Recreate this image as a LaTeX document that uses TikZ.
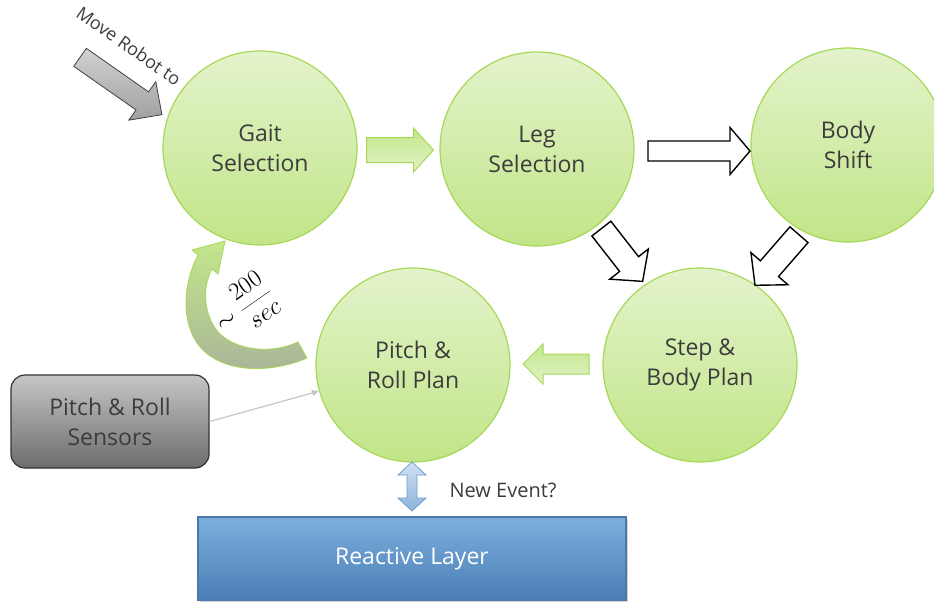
\documentclass[tikz,border=0pt]{standalone}
\usepackage{fontspec}
\setmainfont{Open Sans}
\usetikzlibrary{arrows.meta,shadows}

\definecolor{leafTop}{HTML}{E3F3CB}
\definecolor{leafBot}{HTML}{C2E588}
\definecolor{leafEdge}{HTML}{A6D856}
\definecolor{sproutTop}{HTML}{C4E78C}
\definecolor{sproutBot}{HTML}{E0F2C6}
\definecolor{mossBot}{HTML}{A8B498}
\definecolor{inkGray}{HTML}{3C3C3C}
\definecolor{steelTop}{HTML}{7DAFDD}
\definecolor{steelBot}{HTML}{4A7EB5}
\definecolor{steelEdge}{HTML}{4B78A8}
\definecolor{skyTop}{HTML}{D2E1F2}
\definecolor{skyBot}{HTML}{8DB1DA}
\definecolor{skyEdge}{HTML}{6E9ED0}
\definecolor{slateTop}{HTML}{C6C6C6}
\definecolor{slateBot}{HTML}{6C6C6C}

% block arrow: style, centre, angle, length, shaft width, head width, head length
\newcommand{\blockarrow}[7]{%
  \begin{scope}[shift={#2}, rotate=#3]
    \path[#1] ({-#4/2},{-#5/2}) -- ({#4/2-#7},{-#5/2}) -- ({#4/2-#7},{-#6/2})
      -- ({#4/2},0) -- ({#4/2-#7},{#6/2}) -- ({#4/2-#7},{#5/2})
      -- ({-#4/2},{#5/2}) -- cycle;
  \end{scope}}

\tikzset{
  phase/.style={circle, draw=leafEdge, line width=1.2pt, top color=leafTop, bottom color=leafBot, minimum size=194pt, inner sep=0pt, align=center, text=inkGray, font=\fontsize{23}{30}\selectfont},
  greenflow/.style={draw=leafEdge, line width=1pt, top color=sproutTop, bottom color=sproutBot},
  plainflow/.style={draw=black, line width=1.4pt, fill=white},
  cmdflow/.style={draw=black!75, line width=0.8pt, top color=gray!35, bottom color=gray!75},
  loopflow/.style={draw=leafEdge, line width=0.8pt, top color=sproutTop, bottom color=mossBot},
  sensorbox/.style={rectangle, rounded corners=14pt, draw=black!80, line width=1.2pt, top color=slateTop, bottom color=slateBot, minimum width=198pt, minimum height=93pt, align=center, text=inkGray, font=\fontsize{23}{30}\selectfont},
  layerbox/.style={rectangle, draw=steelEdge, line width=1.2pt, top color=steelTop, bottom color=steelBot, minimum width=428pt, minimum height=83pt, text=white, font=\fontsize{23}{28}\selectfont, drop shadow={shadow xshift=1.5pt, shadow yshift=-1.5pt, opacity=.35}},
  syncflow/.style={draw=skyEdge, line width=0.8pt, top color=skyTop, bottom color=skyBot},
  feed/.style={-{Triangle[length=7pt,width=6pt]}, draw=gray!45, line width=1.2pt},
  note/.style={text=inkGray, font=\fontsize{20}{24}\selectfont}
}

\begin{document}
\begin{tikzpicture}[x=1pt, y=-1pt]
\useasboundingbox (0,0) rectangle (934,602);

% planning stages
\node[phase] (gait) at (260,148) {Gait\\Selection};
\node[phase] (leg) at (537,149) {Leg\\Selection};
\node[phase] (shift) at (848,145) {Body\\Shift};
\node[phase] (stepplan) at (700,365) {Step \&\\Body Plan};
\node[phase] (pitchplan) at (413,365) {Pitch \&\\Roll Plan};

% block arrows between stages
\blockarrow{greenflow}{(400,150)}{0}{67}{25}{44}{20}
\blockarrow{plainflow}{(699,151)}{0}{102}{20}{47}{20}
\blockarrow{plainflow}{(622,255)}{-52}{67}{24}{49}{22}
\blockarrow{plainflow}{(777,260)}{-131}{67}{24}{49}{22}
\blockarrow{greenflow}{(556,364)}{180}{66}{20}{40}{20}

% incoming command
\blockarrow{cmdflow}{(121,86)}{-35}{100}{22}{47}{24}
\node[rotate=-35, text=inkGray, font=\fontsize{18}{20}\selectfont] (cmdtext) at (129,46) {Move Robot to};

% loop back to gait selection
\draw[loopflow] (198,255) .. controls (182,285) and (180,330) .. (205,352)
  .. controls (230,374) and (275,372) .. (307,358) -- (298,342)
  .. controls (270,355) and (235,350) .. (218,332)
  .. controls (202,312) and (203,285) .. (212,269)
  -- (218,274) -- (225,241) -- (192,250) -- cycle;
\node[rotate=35, font=\fontsize{26}{30}\selectfont] (rate) at (244,307) {$\displaystyle\sim\frac{200}{sec}$};

% sensors and reactive layer
\node[sensorbox] (sensors) at (110,421.5) {Pitch \& Roll\\Sensors};
\draw[feed] (sensors.east) -- (pitchplan);

\node[layerbox] (reactive) at (412,558.5) {\raisebox{-3pt}{Reactive Layer}};
\path[syncflow] (412,462) -- (426,475) -- (417,475) -- (417,498) -- (426,498)
  -- (412,511) -- (398,498) -- (407,498) -- (407,475) -- (398,475) -- cycle;
\node[note, anchor=west] (event) at (446,490) {New Event?};
\end{tikzpicture}
\end{document}
